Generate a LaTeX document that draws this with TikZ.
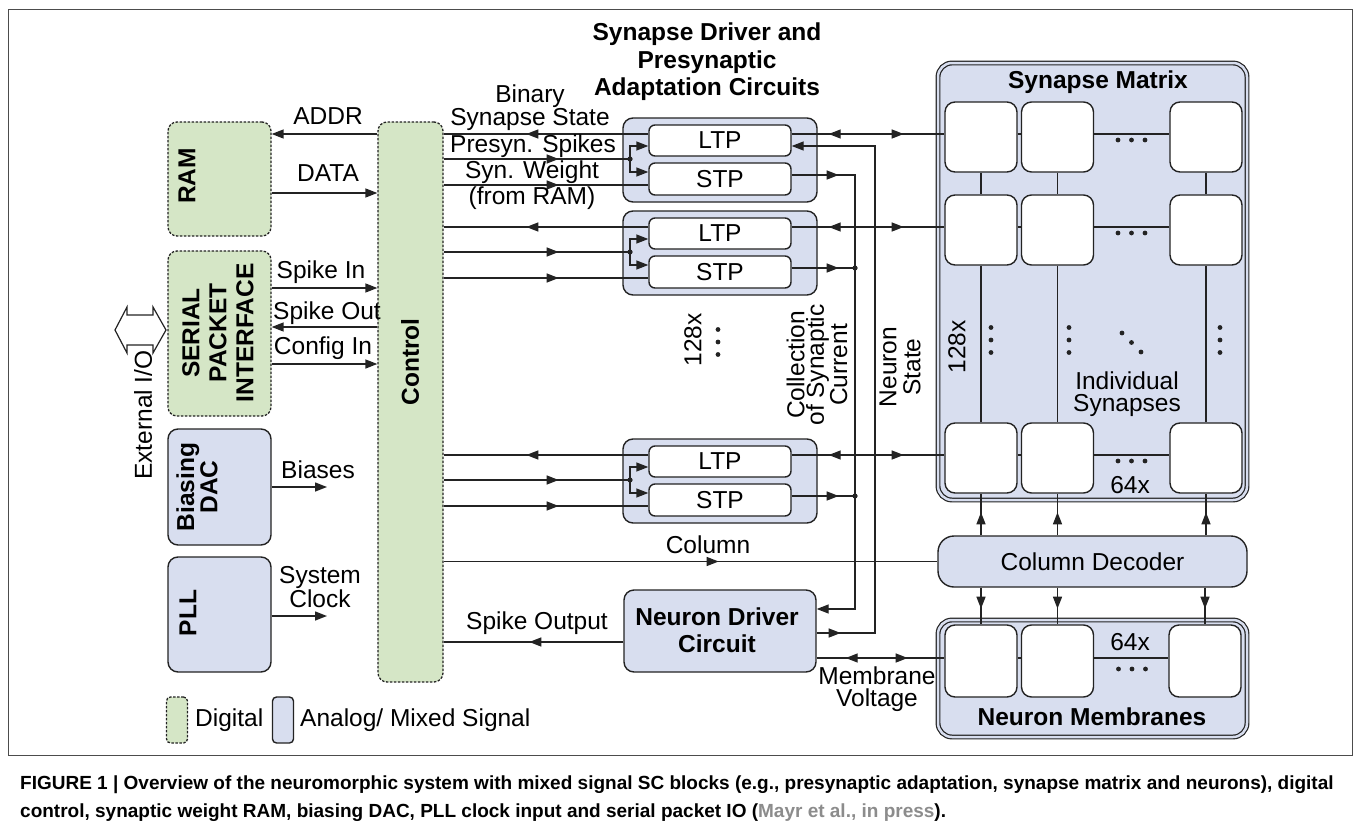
\documentclass[tikz,border=0pt]{standalone}
\usepackage{fontspec}
\setmainfont{Liberation Sans}
\usetikzlibrary{arrows.meta,decorations.markings}

\definecolor{digfill}{RGB}{213,230,198}
\definecolor{anafill}{RGB}{216,222,239}
\definecolor{edge}{RGB}{35,35,35}
\definecolor{capgray}{RGB}{140,140,140}

\tikzset{
  ftip/.tip={Triangle[length=12pt,width=9pt]},
  wire/.style={draw=edge, line width=1.4pt},
  digital/.style={draw=edge, fill=digfill, line width=1.3pt, dash pattern=on 2.5pt off 1.5pt, rounded corners=9pt},
  analog/.style={draw=edge, fill=anafill, line width=1.4pt, rounded corners=10pt},
  unit/.style={draw=edge, fill=white, line width=1.4pt, rounded corners=6pt, minimum width=142pt, minimum height=31pt, inner sep=0pt, font=\fontsize{24.5}{21}\selectfont},
  cell/.style={draw=edge, fill=white, line width=1.4pt, rounded corners=10pt, minimum width=72pt, minimum height=70pt, inner sep=0pt},
  lbl/.style={font=\fontsize{24.5}{22}\selectfont, align=center, inner sep=0pt},
  blbl/.style={font=\fontsize{24.5}{27.5}\selectfont\bfseries, align=center, inner sep=0pt},
  arrowat/.style={postaction={decorate, decoration={markings, mark=at position #1 with {\arrow{ftip}}}}},
  revat/.style={postaction={decorate, decoration={markings, mark=at position #1 with {\arrowreversed{ftip}}}}},
}

\newcommand{\dotrow}[2]{\foreach \d in {-13.5,0,13.5} \fill[edge] (#1+\d,#2) circle (2.4pt);}
\newcommand{\dotcol}[2]{\foreach \d in {-12.5,0,12.5} \fill[edge] (#1,#2+\d) circle (2.4pt);}

\begin{document}
\begin{tikzpicture}[x=1pt,y=-1pt]
\useasboundingbox (0,0) rectangle (1355,835);
\draw[line width=1pt, black!70] (8,9) rectangle (1352,755);

% left blocks
\node[digital, minimum width=103pt, minimum height=114pt] (ram) at (219.5,179) {};
\node[blbl, rotate=90] at (187,176) {RAM};
\node[digital, minimum width=103pt, minimum height=165pt] (spi) at (219.5,333.5) {};
\node[blbl, rotate=90, font=\fontsize{24.5}{27}\selectfont\bfseries] at (218,333) {SERIAL\\PACKET\\INTERFACE};
\node[analog, minimum width=103pt, minimum height=116pt] (dac) at (219.5,487) {};
\node[blbl, rotate=90, font=\fontsize{24.5}{22}\selectfont\bfseries] at (197,487) {Biasing\\DAC};
\node[analog, minimum width=103pt, minimum height=115pt] (pll) at (219.5,614.5) {};
\node[blbl, rotate=90] at (188,613) {PLL};
\node[digital, minimum width=65pt, minimum height=560pt] (ctrl) at (410.5,402) {};
\node[blbl, rotate=90] at (410,362) {Control};

% external I/O
\draw[wire, line width=1.2pt, fill=white] (115,330) -- (127,307) -- (127,315) -- (153,315) -- (153,307)
  -- (166,330) -- (153,353) -- (153,345) -- (127,345) -- (127,353) -- cycle;
\node[lbl, rotate=90] at (143,415) {External I/O};

% left connectors
\draw[wire, -ftip] (ctrl.west |- 0,134) -- (ram.east |- 0,134);
\node[lbl] at (328,116) {ADDR};
\draw[wire, -ftip] (ram.east |- 0,193) -- (ctrl.west |- 0,193);
\node[lbl] at (328,173) {DATA};
\draw[wire, -ftip] (spi.east |- 0,288) -- (ctrl.west |- 0,288);
\node[lbl] at (321,272) {Spike In};
\draw[wire, -ftip] (ctrl.west |- 0,327) -- (spi.east |- 0,327);
\node[lbl] at (327,313) {Spike Out};
\draw[wire, -ftip] (spi.east |- 0,364) -- (ctrl.west |- 0,364);
\node[lbl] at (323,348) {Config In};
\coordinate (biasend) at (327,487);
\draw[wire, -ftip] (dac.east |- biasend) -- (biasend);
\node[lbl] at (318,470) {Biases};
\coordinate (clkend) at (327,616);
\draw[wire, -ftip] (pll.east |- clkend) -- (clkend);
\node[lbl, font=\fontsize{24.5}{20}\selectfont] at (320,587) {System\\Clock};

% synapse drivers
\node[blbl] at (707,62) {Synapse Driver and\\Presynaptic\\Adaptation Circuits};
\foreach \i/\t in {1/118,2/211,3/439}{
  \node[analog, minimum width=194pt, minimum height=84pt] (g\i) at (720,\t+42) {};
  \node[unit] (ltp\i) at (720,\t+22.5) {LTP};
  \node[unit, minimum height=32pt] (stp\i) at (720,\t+61) {STP};
  \coordinate (br\i) at (630,\t+41);
  \draw[wire, arrowat=122pt] (ltp\i.west |- 0,\t+16) -- (ctrl.east |- 0,\t+16);
  \draw[wire, arrowat=115pt] (ctrl.east |- br\i) -- (br\i);
  \draw[wire, arrowat=115pt] (ctrl.east |- 0,\t+67) -- (stp\i.west |- 0,\t+67);
  \draw[wire, -ftip] (br\i) |- (ltp\i.west |- 0,\t+28);
  \draw[wire, -ftip] (br\i) |- (stp\i.west |- 0,\t+54);
  \fill[edge] (br\i) circle (2.6pt);
}
\node[lbl, font=\fontsize{24.5}{20}\selectfont] at (530,108) {Binary\\Synapse State};
\node[lbl] at (533,146) {Presyn. Spikes};
\node[lbl, font=\fontsize{24.5}{26}\selectfont] at (532,185) {Syn. Weight\\(from RAM)};
\node[lbl, rotate=90] at (693,340) {128x};
\dotcol{718}{342}

% collection of synaptic current and neuron state
\coordinate (coltop) at (855,175);
\coordinate (colbot) at (855,609);
\coordinate (nstop) at (875,146);
\coordinate (nsbot) at (875,633);

% neuron driver
\node[analog, minimum width=192pt, minimum height=82pt] (nd) at (720,631) {};
\node[blbl] at (717,630) {Neuron Driver\\Circuit};
\draw[wire, arrowat=47pt, -ftip] (stp1.east |- coltop) -- (coltop) -- (colbot) -- (nd.east |- colbot);
\foreach \i/\y in {2/268,3/496}{
  \draw[wire, arrowat=47pt] (stp\i.east |- 0,\y) -- (coltop |- 0,\y);
  \fill[edge] (coltop |- 0,\y) circle (2.6pt);
}
\draw[wire, arrowat=24pt, -ftip] (nd.east |- nsbot) -- (nsbot) -- (nstop) -- (ltp1.east |- nstop);
\node[lbl, rotate=90, font=\fontsize{24.5}{19.5}\selectfont] at (817,365) {Collection\\of Synaptic\\Current};
\node[lbl, rotate=90, font=\fontsize{24.5}{24}\selectfont] at (900,367) {Neuron\\State};

% synapse matrix
\node[analog, double=anafill, double distance=2.5pt, line width=1.2pt, rounded corners=14pt,
  minimum width=309pt, minimum height=437pt] (mat) at (1092.5,281.5) {};
\node[blbl] at (1098,82) {Synapse Matrix};
\foreach \r/\cy in {1/137,2/230,3/458}
  \foreach \c/\cx in {1/981,2/1057.5,3/1206}
    \node[cell] (c\r\c) at (\cx,\cy) {};
\foreach \c in {1,2,3}{
  \draw[wire] (c1\c.south) -- (c2\c.north);
  \draw[wire] (c2\c.south) -- (c3\c.north);
}
\foreach \r/\y in {1/134,2/227,3/455}{
  \draw[wire, revat=37pt, arrowat=112pt] (ltp\r.east |- 0,\y) -- (c\r1.west |- 0,\y);
  \draw[wire] (c\r1.east |- 0,\y) -- (c\r2.west |- 0,\y);
  \draw[wire] (c\r2.east |- 0,\y) -- (c\r3.west |- 0,\y);
  \dotrow{1131.5}{\y+6}
}
\node[lbl] at (1130,485) {64x};
\node[lbl, rotate=90] at (957,347) {128x};
\dotcol{991}{340}
\dotcol{1069}{340}
\dotcol{1220}{340}
\fill[edge] (1122,333) circle (2.4pt) (1131.5,342.5) circle (2.4pt) (1141,352) circle (2.4pt);
\node[lbl] at (1127,394) {Individual\\Synapses};

% column decoder
\node[analog, rounded corners=16pt, minimum width=309pt, minimum height=51pt, font=\fontsize{24.5}{21}\selectfont] (dec) at (1092.5,561.5) {Column Decoder};
\draw[wire, arrowat=275pt] (ctrl.east |- dec.west) -- (dec.west);
\node[lbl] at (708,545) {Column};
\foreach \c in {1,2,3}
  \draw[wire, arrowat=23pt] (dec.north -| c3\c) -- (c3\c.south);

% neuron membranes
\node[analog, double=anafill, double distance=2.5pt, line width=1.2pt, rounded corners=14pt,
  minimum width=309pt, minimum height=117pt] (mem) at (1092.5,678.5) {};
\foreach \c/\cx in {1/981,2/1057.5,3/1205}
  \node[cell, minimum height=72pt] (n\c) at (\cx,661) {};
\foreach \c in {1,2,3}
  \draw[wire, arrowat=21pt] (dec.south -| n\c) -- (n\c.north);
\draw[wire] (n1.east |- 0,658) -- (n2.west |- 0,658);
\draw[wire] (n2.east |- 0,658) -- (n3.west |- 0,658);
\node[lbl] at (1130,642) {64x};
\dotrow{1132}{669}
\node[blbl] at (1092,717) {Neuron Membranes};
\draw[wire, revat=29pt, arrowat=91pt] (nd.east |- 0,658) -- (n1.west |- 0,658);
\node[lbl] at (877,689) {Membrane\\Voltage};

% spike output
\draw[wire, arrowat=94pt] (nd.west |- 0,642) -- (ctrl.east |- 0,642);
\node[lbl] at (537,623) {Spike Output};

% legend
\node[digital, rounded corners=4pt, minimum width=21pt, minimum height=46pt] (legd) at (177,720) {};
\node[lbl, anchor=west] at (195,720) {Digital};
\node[analog, rounded corners=4pt, minimum width=21pt, minimum height=46pt] (lega) at (283,720) {};
\node[lbl, anchor=west] at (300,720) {Analog/ Mixed Signal};

% caption
\node[anchor=north west, inner sep=0pt, align=left, font=\fontsize{19}{28}\selectfont\bfseries] (cap) at (20,776)
  {FIGURE 1 | Overview of the neuromorphic system with mixed signal SC blocks (e.g., presynaptic adaptation, synapse matrix and neurons), digital\\
   control, synaptic weight RAM, biasing DAC, PLL clock input and serial packet IO ({\color{capgray}Mayr et al., in press}).};
\end{tikzpicture}
\end{document}
